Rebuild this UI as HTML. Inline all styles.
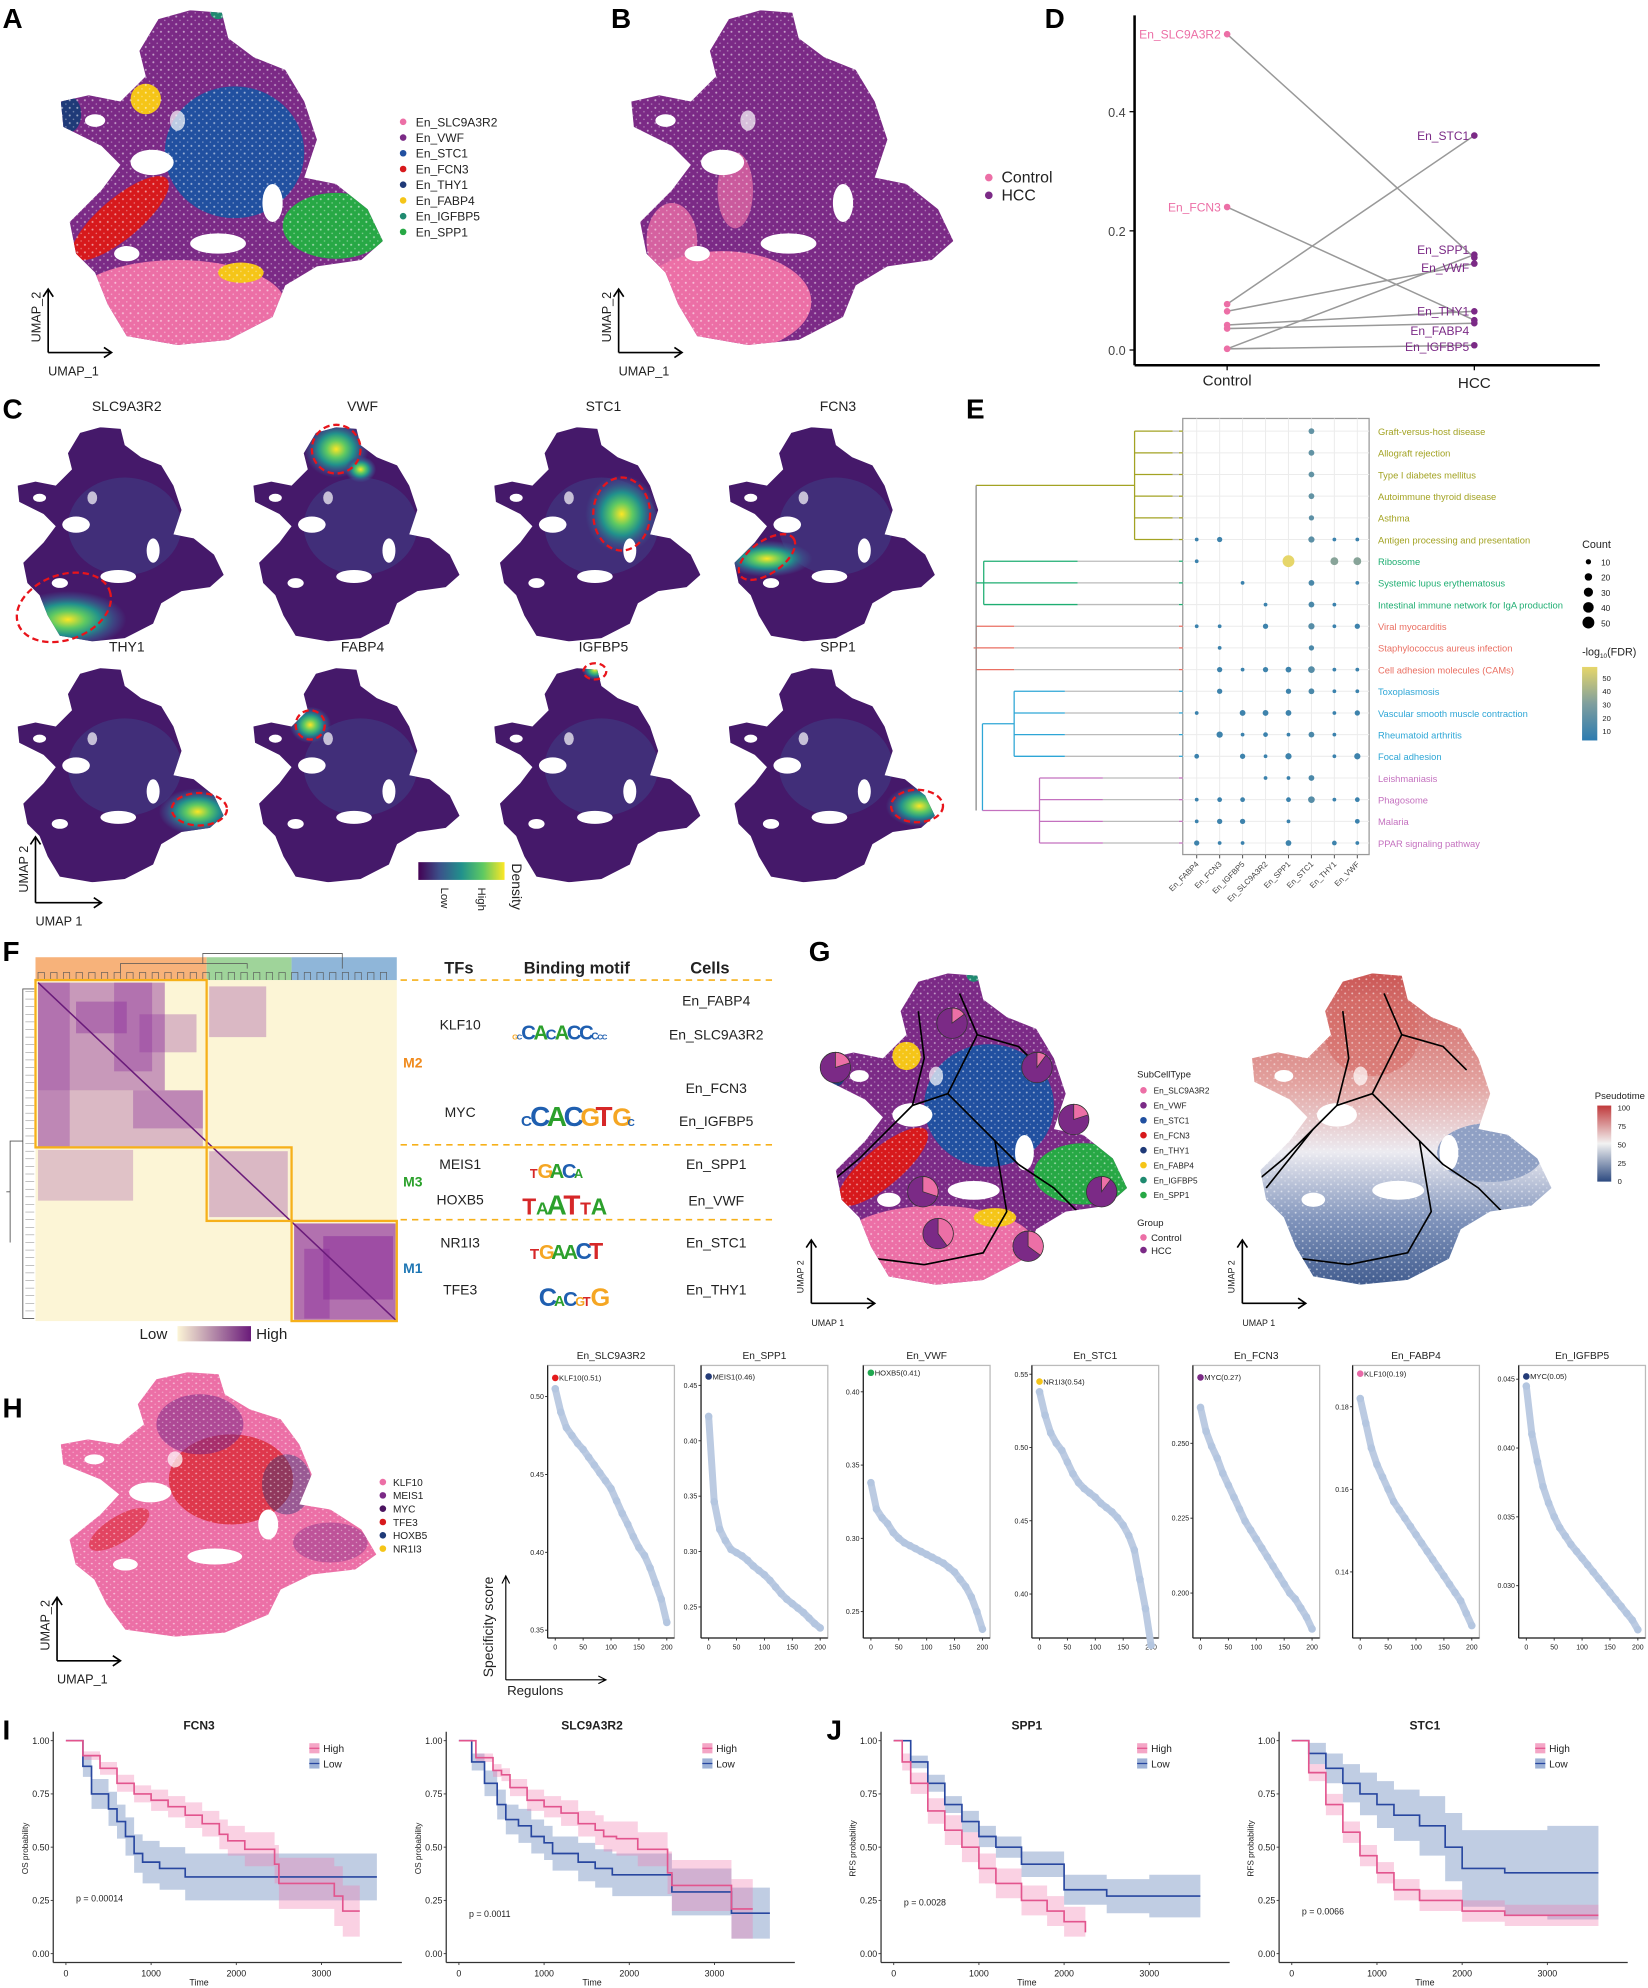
<!DOCTYPE html>
<html><head><meta charset="utf-8">
<style>
html,body{margin:0;padding:0;background:#fff;}
svg{display:block;font-family:"Liberation Sans",Arial,sans-serif;}
</style></head>
<body>
<svg id="fig" width="1648" height="1988" viewBox="0 0 1300 1568" xmlns="http://www.w3.org/2000/svg">
<defs>
<radialGradient id="hot" cx="50%" cy="50%" r="50%">
<stop offset="0" stop-color="#fde725"/><stop offset="0.3" stop-color="#5ec962"/><stop offset="0.55" stop-color="#21918c"/><stop offset="0.8" stop-color="#3b528b" stop-opacity="0.7"/><stop offset="1" stop-color="#3b528b" stop-opacity="0"/>
</radialGradient>
<linearGradient id="viridis" x1="0" x2="1" y1="0" y2="0">
<stop offset="0" stop-color="#440154"/><stop offset="0.25" stop-color="#3b528b"/><stop offset="0.5" stop-color="#21918c"/><stop offset="0.75" stop-color="#5ec962"/><stop offset="1" stop-color="#fde725"/>
</linearGradient>
<linearGradient id="fdrbar" x1="0" x2="0" y1="1" y2="0">
<stop offset="0" stop-color="#2c7bb0"/><stop offset="0.5" stop-color="#7f9f9e"/><stop offset="1" stop-color="#e6d66a"/>
</linearGradient>
<linearGradient id="pseudobar" x1="0" x2="0" y1="1" y2="0">
<stop offset="0" stop-color="#2d4a80"/><stop offset="0.5" stop-color="#f2f2f2"/><stop offset="1" stop-color="#c0393b"/>
</linearGradient>
<linearGradient id="pseudofill" x1="0" x2="0" y1="0" y2="1">
<stop offset="0" stop-color="#c9504e"/><stop offset="0.35" stop-color="#e3a3a0"/><stop offset="0.55" stop-color="#ecebf1"/><stop offset="0.75" stop-color="#7f93bb"/><stop offset="1" stop-color="#2d4a80"/>
</linearGradient>
<linearGradient id="heatbar" x1="0" x2="1" y1="0" y2="0">
<stop offset="0" stop-color="#fcf5d6"/><stop offset="1" stop-color="#6a1b7a"/>
</linearGradient>
<clipPath id="umapClip" clipPathUnits="userSpaceOnUse">
<path d="M125,15 L150,8 L175,10 L180,30 L200,45 L225,55 L240,80 L250,110 L240,140 L265,145 L290,165 L302,190 L285,205 L250,210 L225,225 L215,250 L180,268 L140,272 L100,265 L85,240 L75,215 L60,200 L55,175 L80,150 L95,130 L80,115 L50,100 L48,80 L70,75 L95,80 L115,60 L110,40 Z"/>
</clipPath>
<pattern id="speck" width="6" height="6" patternUnits="userSpaceOnUse">
<circle cx="1" cy="1" r="0.8" fill="#fff" opacity="0.55"/><circle cx="4" cy="4" r="0.6" fill="#fff" opacity="0.4"/>
</pattern>
</defs>
<g id="root"></g>
</svg>
<script>
// ===== Panel D data =====
const dClusters=["En_SLC9A3R2","En_FCN3","En_STC1","En_SPP1","En_VWF","En_THY1","En_FABP4","En_IGFBP5"];
const dControl=[0.53,0.24,0.077,0.002,0.065,0.042,0.036,0.002];
const dHCC=[0.155,0.05,0.36,0.16,0.145,0.065,0.045,0.008];
const dTicks=[0.0,0.2,0.4];
// ===== Panel E data =====
const ePathways=["Graft-versus-host disease","Allograft rejection","Type I diabetes mellitus","Autoimmune thyroid disease","Asthma","Antigen processing and presentation","Ribosome","Systemic lupus erythematosus","Intestinal immune network for IgA production","Viral myocarditis","Staphylococcus aureus infection","Cell adhesion molecules (CAMs)","Toxoplasmosis","Vascular smooth muscle contraction","Rheumatoid arthritis","Focal adhesion","Leishmaniasis","Phagosome","Malaria","PPAR signaling pathway"];
const eCells=["En_FABP4","En_FCN3","En_IGFBP5","En_SLC9A3R2","En_SPP1","En_STC1","En_THY1","En_VWF"];
const eCount=[
[0,0,0,0,0,12,0,0],[0,0,0,0,0,12,0,0],[0,0,0,0,0,12,0,0],[0,0,0,0,0,12,0,0],[0,0,0,0,0,10,0,0],
[5,10,0,0,0,14,5,5],[5,0,0,0,50,0,22,22],[0,0,5,0,0,12,0,5],[0,0,0,5,0,12,5,0],
[5,5,0,10,0,14,5,10],[0,5,0,0,0,10,0,0],[0,10,5,10,12,16,5,5],[0,10,0,0,10,12,5,5],
[5,0,12,12,12,0,5,10],[0,14,5,8,5,12,5,0],[8,0,10,5,14,0,5,14],[0,0,0,5,5,12,0,0],
[5,8,8,0,8,16,5,8],[5,10,10,0,5,0,0,8],[10,5,5,0,12,0,8,5]];
const eFDR=[
[0,0,0,0,0,18,0,0],[0,0,0,0,0,18,0,0],[0,0,0,0,0,18,0,0],[0,0,0,0,0,18,0,0],[0,0,0,0,0,16,0,0],
[5,6,0,0,0,16,5,5],[5,0,0,0,55,0,30,30],[0,0,5,0,0,10,0,5],[0,0,0,5,0,10,5,0],
[5,5,0,6,0,14,5,6],[0,5,0,0,0,10,0,0],[0,6,5,6,6,14,5,5],[0,6,0,0,6,10,5,5],
[5,0,6,6,6,0,5,6],[0,6,5,5,5,10,5,0],[5,0,6,5,6,0,5,6],[0,0,0,5,5,10,0,0],
[5,5,6,0,5,14,5,5],[5,6,6,0,5,0,0,5],[6,5,5,0,6,0,6,5]];
const eGroupColor=["#a3a323","#a3a323","#a3a323","#a3a323","#a3a323","#a3a323","#1fae72","#1fae72","#1fae72","#ea6f62","#ea6f62","#ea6f62","#2ea6d6","#2ea6d6","#2ea6d6","#2ea6d6","#c471bf","#c471bf","#c471bf","#c471bf"];
// ===== Panel H specificity data (ranks 0..200 step 10) =====
const hTitles=["En_SLC9A3R2","En_SPP1","En_VWF","En_STC1","En_FCN3","En_FABP4","En_IGFBP5"];
const hTop=["KLF10(0.51)","MEIS1(0.46)","HOXB5(0.41)","NR1I3(0.54)","MYC(0.27)","KLF10(0.19)","MYC(0.05)"];
const hTopVal=[0.512,0.458,0.413,0.545,0.272,0.188,0.0452];
const hRanks=[0,10,20,30,40,50,60,70,80,90,100,110,120,130,140,150,160,170,180,190,200];
const hSLC=[0.505,0.49,0.48,0.475,0.47,0.466,0.461,0.456,0.451,0.446,0.441,0.433,0.425,0.418,0.41,0.403,0.398,0.39,0.38,0.37,0.355];
const hSPP1=[0.422,0.345,0.32,0.31,0.302,0.299,0.296,0.292,0.287,0.283,0.279,0.274,0.268,0.262,0.257,0.253,0.249,0.245,0.24,0.235,0.231];
const hVWF=[0.338,0.32,0.314,0.31,0.304,0.30,0.297,0.295,0.293,0.291,0.289,0.287,0.285,0.283,0.28,0.277,0.272,0.267,0.26,0.25,0.238];
const hSTC1=[0.538,0.522,0.51,0.503,0.498,0.49,0.482,0.476,0.472,0.469,0.466,0.462,0.459,0.456,0.452,0.447,0.44,0.43,0.41,0.39,0.365];
const hFCN3=[0.262,0.254,0.249,0.245,0.24,0.236,0.232,0.228,0.224,0.221,0.218,0.215,0.212,0.209,0.206,0.203,0.2,0.198,0.195,0.192,0.188];
const hFABP4=[0.182,0.176,0.17,0.166,0.163,0.16,0.157,0.155,0.153,0.151,0.149,0.147,0.145,0.143,0.141,0.139,0.137,0.135,0.133,0.13,0.127];
const hIGFBP5=[0.0445,0.041,0.039,0.0372,0.036,0.035,0.0342,0.0336,0.033,0.0325,0.032,0.0315,0.031,0.0305,0.030,0.0295,0.029,0.0285,0.028,0.0275,0.0268];
const hSeries=[hSLC,hSPP1,hVWF,hSTC1,hFCN3,hFABP4,hIGFBP5];
const hYmin=[0.345,0.222,0.232,0.37,0.185,0.124,0.0262];
const hYmax=[0.52,0.468,0.418,0.556,0.276,0.19,0.046];
const hYticks=[[0.35,0.40,0.45,0.50],[0.25,0.30,0.35,0.40,0.45],[0.25,0.30,0.35,0.40],[0.40,0.45,0.50,0.55],[0.200,0.225,0.250],[0.14,0.16,0.18],[0.030,0.035,0.040,0.045]];
const hTopColor=["#e41a1c","#253c78","#21a850","#f5c518","#7b2a86","#e86aa8","#253c78"];
// ===== KM data =====
const kmTitles=["FCN3","SLC9A3R2","SPP1","STC1"];
const kmHighT=[[0,200,400,600,800,1000,1200,1400,1600,1800,1900,2100,2450,2500,3150,3250,3450],[0,200,400,500,600,800,1000,1200,1400,1600,1700,1850,2100,2450,2500,3200,3450],[0,100,200,400,600,800,1000,1200,1500,1800,2000,2250],[0,200,400,600,800,1000,1200,1500,2000,2500,3000,3600]];
const kmHighS=[[1,.93,.87,.8,.75,.72,.69,.65,.61,.56,.53,.49,.42,.33,.27,.2,.2],[1,.92,.86,.84,.78,.72,.69,.66,.61,.58,.55,.54,.49,.38,.32,.21,.21],[1,.9,.8,.67,.58,.5,.4,.33,.25,.2,.15,.1],[1,.85,.7,.57,.46,.38,.3,.25,.2,.18,.18,.18]];
const kmHighW=[[0,.02,.03,.04,.04,.05,.05,.06,.06,.07,.07,.08,.09,.12,.14,.12,.12],[0,.02,.03,.03,.04,.05,.05,.06,.06,.07,.07,.08,.08,.1,.12,.14,.14],[0,.04,.05,.06,.07,.07,.07,.07,.07,.07,.07,.06],[0,.04,.05,.05,.05,.05,.05,.05,.05,.05,.05,.05]];
const kmLowT=[[0,200,300,500,600,700,800,900,1100,1400,3650],[0,150,300,450,550,700,850,1000,1100,1400,1600,1800,2500,3200,3650],[0,200,400,600,800,1000,1200,1500,2000,2500,3000,3600],[0,200,400,600,800,1000,1200,1500,1800,2000,2500,3000,3600]];
const kmLowS=[[1,.88,.75,.68,.62,.55,.47,.43,.4,.36,.36],[1,.9,.8,.7,.63,.6,.55,.52,.47,.43,.4,.37,.29,.19,.19],[1,.9,.8,.7,.62,.55,.5,.42,.3,.27,.27,.27],[1,.94,.87,.8,.75,.7,.65,.6,.5,.4,.38,.38,.38]];
const kmLowW=[[0,.05,.07,.08,.08,.09,.09,.1,.1,.11,.16],[0,.04,.06,.07,.07,.08,.08,.08,.08,.09,.09,.1,.11,.12,.12],[0,.03,.04,.04,.05,.05,.05,.06,.07,.08,.1,.1],[0,.05,.07,.09,.1,.11,.12,.14,.16,.18,.2,.22,.22]];
const kmP=["p = 0.00014","p = 0.0011","p = 0.0028","p = 0.0066"];
const kmYlab=["OS probability","OS probability","RFS probability","RFS probability"];
const kmYticks=[0,0.25,0.5,0.75,1];
const kmXticks=[0,1000,2000,3000];

const F='font-family="Liberation Sans, Arial, sans-serif"';
let s='';
function T(x,y,txt,o){o=o||{};return `<text x="${x}" y="${y}" font-size="${o.fs||10}" fill="${o.c||'#222'}" text-anchor="${o.a||'start'}"${o.w?' font-weight="bold"':''}${o.r!=null?` transform="rotate(${o.r} ${x} ${y})"`:''}>${txt}</text>`;}
function L(x1,y1,x2,y2,c,w,n,extra){return `<line x1="${x1}" y1="${y1}" x2="${x2}" y2="${y2}" stroke="${c}" stroke-width="${w}" ${extra||''}/>`;}
function letter(x,y,ch){return T(x,y,ch,{fs:22,w:1,c:'#000',n:'panel-label-'+ch.toLowerCase()});}
function axesArrows(x,y,len,l1,l2,fs){
  let r=`<g>`;
  r+=L(x,y,x,y-len,'#000',1.3,'umap-y-arrow')+`<path d="M${x-4},${y-len+6} L${x},${y-len} L${x+4},${y-len+6}" fill="none" stroke="#000" stroke-width="1.3"/>`;
  r+=L(x,y,x+len,y,'#000',1.3,'umap-x-arrow')+`<path d="M${x+len-6},${y-4} L${x+len},${y} L${x+len-6},${y+4}" fill="none" stroke="#000" stroke-width="1.3"/>`;
  r+=T(x-6,y-8,l1,{fs:fs||10,r:-90,n:'umap-2-label'})+T(x,y+18,l2,{fs:fs||10,n:'umap-1-label'});
  return r+'</g>';
}
function umap(tx,ty,sx,sy,inner,name){
  return `<g transform="translate(${tx},${ty}) scale(${sx},${sy})"><g clip-path="url(#umapClip)">${inner}</g></g>`;
}
const holes=`<ellipse cx="120" cy="128" rx="17" ry="10" fill="#fff"/><ellipse cx="172" cy="192" rx="22" ry="8" fill="#fff"/><ellipse cx="215" cy="160" rx="8" ry="15" fill="#fff"/><ellipse cx="100" cy="200" rx="10" ry="6" fill="#fff"/><ellipse cx="75" cy="95" rx="8" ry="5" fill="#fff"/><ellipse cx="140" cy="95" rx="6" ry="8" fill="#fff" opacity="0.7"/>`;
const clusterInner=`<rect x="0" y="0" width="320" height="290" fill="#7b2a86"/>
<ellipse cx="185" cy="120" rx="55" ry="52" fill="#2150a0"/>
<ellipse cx="265" cy="178" rx="42" ry="26" fill="#27a845"/>
<ellipse cx="95" cy="172" rx="48" ry="16" transform="rotate(-40 95 172)" fill="#d7191c"/>
<ellipse cx="140" cy="240" rx="85" ry="35" fill="#ec6fa6"/>
<ellipse cx="190" cy="215" rx="18" ry="8" fill="#f5c518"/>
<ellipse cx="115" cy="78" rx="12" ry="12" fill="#f5c518"/>
<ellipse cx="55" cy="90" rx="9" ry="14" fill="#1f3a78"/>
<ellipse cx="172" cy="10" rx="6" ry="5" fill="#1f8a70"/>
${holes}<rect x="0" y="0" width="320" height="290" fill="url(#speck)"/>`;

// ===== Panel A =====
s+=letter(2,22,'A');
s+=umap(0,0,1,1,clusterInner,'umap-clusters-a');
const aNames=["En_SLC9A3R2","En_VWF","En_STC1","En_FCN3","En_THY1","En_FABP4","En_IGFBP5","En_SPP1"];
const aCols=["#ec6fa6","#7b2a86","#2150a0","#d7191c","#1f3a78","#f5c518","#1f8a70","#27a845"];
aNames.forEach((n,i)=>{s+=`<circle cx="318" cy="${96+i*12.4}" r="2.6" fill="${aCols[i]}"/>`+T(328,99.5+i*12.4,n,{fs:9.5,n:'legend-entry-'+n});});
s+=axesArrows(38,278,50,'UMAP_2','UMAP_1',10);
// ===== Panel B =====
s+=letter(482,22,'B');
s+=umap(450,0,1,1,`<rect x="0" y="0" width="320" height="290" fill="#7b2a86"/><ellipse cx="120" cy="238" rx="70" ry="40" fill="#ec6fa6"/><ellipse cx="80" cy="190" rx="20" ry="30" fill="#ec6fa6" opacity="0.8"/><ellipse cx="130" cy="150" rx="14" ry="30" fill="#ec6fa6" opacity="0.7"/>${holes}<rect x="0" y="0" width="320" height="290" fill="url(#speck)"/>`,'umap-group-b');
s+=`<circle cx="780" cy="140" r="3" fill="#ec6fa6"/>`+T(790,144,'Control',{fs:12.5,n:'legend-control'});
s+=`<circle cx="780" cy="154" r="3" fill="#7b2a86"/>`+T(790,158,'HCC',{fs:12.5,n:'legend-hcc'});
s+=axesArrows(488,278,50,'UMAP_2','UMAP_1',10);
// ===== Panel D =====
s+=letter(824,22,'D');
(function(){
  const x0=895,yb=288,yScale=v=>276-v*470,xc=968,xh=1163;
  let g=`<g>`;
  g+=L(x0,12,x0,yb,'#000',2,'y-axis')+L(x0,yb,1262,yb,'#000',2,'x-axis');
  dTicks.forEach(v=>{g+=L(x0-4,yScale(v),x0,yScale(v),'#000',1,'y-tick')+T(x0-7,yScale(v)+4,v.toFixed(1),{fs:10,a:'end',c:'#444',n:'y-tick-label'});});
  g+=L(xc,yb,xc,yb+4,'#000',1,'x-tick')+L(xh,yb,xh,yb+4,'#000',1,'x-tick');
  g+=T(xc,yb+16,'Control',{fs:12,a:'middle',n:'x-label-control'})+T(xh,yb+18,'HCC',{fs:12,a:'middle',n:'x-label-hcc'});
  dClusters.forEach((n,i)=>{g+=`<line x1="${xc}" y1="${yScale(dControl[i])}" x2="${xh}" y2="${yScale(dHCC[i])}" stroke="#999" stroke-width="1.2"/>`;});
  dClusters.forEach((n,i)=>{
    g+=`<circle cx="${xc}" cy="${yScale(dControl[i])}" r="2.6" fill="#ec6fa6"/>`;
    g+=`<circle cx="${xh}" cy="${yScale(dHCC[i])}" r="2.6" fill="#7b2a86"/>`;
  });
  [0,1].forEach(i=>{g+=T(xc-5,yScale(dControl[i])+3.5,dClusters[i],{fs:9.5,a:'end',c:'#ec6fa6',n:'label-control-'+dClusters[i]});});
  const hl={"En_STC1":0,"En_SPP1":-4,"En_VWF":3,"En_THY1":0,"En_FABP4":6,"En_IGFBP5":1};
  dClusters.forEach((n,i)=>{if(n in hl)g+=T(xh-4,yScale(dHCC[i])+3.5+hl[n],n,{fs:9.5,a:'end',c:'#7b2a86',n:'label-hcc-'+n});});
  s+=g+'</g>';
})();
// ===== Panel C =====
s+=letter(2,330,'C');
const cGenes=["SLC9A3R2","VWF","STC1","FCN3","THY1","FABP4","IGFBP5","SPP1"];
const cHot=[[[110,245,45,22]],[[150,35,25,22],[180,60,12,10]],[[205,115,28,30]],[[95,170,35,14]],[[270,185,30,18],[52,250,8,10]],[[118,78,16,14]],[[172,10,10,8]],[[283,178,26,16]]];
const cDash=[[105,230,60,40,-20],[150,35,30,30,0],[205,115,35,45,0],[95,168,40,20,-35],[272,182,34,20,0],[118,78,18,18,0],[172,12,14,10,0],[280,178,32,20,0]];
cGenes.forEach((gname,i)=>{
  const col=i%4,row=Math.floor(i/4);
  const ox=[12,198,388,573][col],oy=row?525:335;
  const sc=0.64;
  let inner=`<rect x="0" y="0" width="320" height="290" fill="#45196a"/><ellipse cx="180" cy="130" rx="70" ry="60" fill="#3b4a8c" opacity="0.45"/>`;
  cHot[i].forEach(h=>{inner+=`<ellipse cx="${h[0]}" cy="${h[1]}" rx="${h[2]*1.6}" ry="${h[3]*1.6}" fill="url(#hot)"/>`;});
  inner+=holes;
  s+=umap(ox-45*sc,oy-5*sc,sc,sc,inner,'density-map-'+gname);
  const d=cDash[i];
  s+=`<ellipse cx="${ox-45*sc+d[0]*sc}" cy="${oy-5*sc+d[1]*sc}" rx="${d[2]*sc}" ry="${d[3]*sc}" transform="rotate(${d[4]} ${ox-45*sc+d[0]*sc} ${oy-5*sc+d[1]*sc})" fill="none" stroke="#e8141b" stroke-width="1.8" stroke-dasharray="5,3"/>`;
  s+=T(ox+88,oy-11,gname,{fs:11,a:'middle',n:'density-title-'+gname});
});
s+=`<rect x="330" y="680" width="68" height="14" fill="url(#viridis)"/>`;
s+=T(348,700,'Low',{fs:9,r:90,n:'colorbar-low'})+T(377,700,'High',{fs:9,r:90,n:'colorbar-high'})+T(404,681,'Density',{fs:11,r:90,n:'colorbar-title'});
s+=axesArrows(28,712,52,'UMAP 2','UMAP 1',10);
// ===== Panel E =====
s+=letter(762,330,'E');
(function(){
  const bx=933,by=330,bw=147,bh=344;
  const cx=j=>944+j*18.1, ry=i=>340+i*17.1;
  let g=`<g>`;
  g+=`<rect x="${bx}" y="${by}" width="${bw}" height="${bh}" fill="#fff" stroke="#999" stroke-width="1"/>`;
  ePathways.forEach((p,i)=>{g+=L(bx,ry(i),bx+bw,ry(i),'#ececec',0.8,'grid-row');});
  eCells.forEach((c,j)=>{g+=L(cx(j),by,cx(j),by+bh,'#ececec',0.8,'grid-col');});
  const fdrCol=v=>{const t=Math.min(v/55,1);const a=[44,123,176],m=[127,159,158],b=[230,214,106];let c;if(t<.5){const u=t/.5;c=a.map((x,k)=>Math.round(x+(m[k]-x)*u));}else{const u=(t-.5)/.5;c=m.map((x,k)=>Math.round(x+(b[k]-x)*u));}return `rgb(${c.join(',')})`;};
  ePathways.forEach((p,i)=>{eCells.forEach((c,j)=>{const v=eCount[i][j];if(v>0)g+=`<circle cx="${cx(j)}" cy="${ry(i)}" r="${(Math.sqrt(v)*0.66).toFixed(2)}" fill="${fdrCol(eFDR[i][j])}"/>`;});
    g+=T(1087,ry(i)+3,p,{fs:7.4,c:eGroupColor[i],n:'pathway-label'});
    g+=L(bx-3,ry(i),bx,ry(i),eGroupColor[i],1,'row-tick');});
  eCells.forEach((c,j)=>{g+=L(cx(j),by+bh,cx(j),by+bh+3,'#555',0.8,'col-tick')+T(cx(j)+2,by+bh+8,c,{fs:6.2,a:'end',c:'#444',r:-45,n:'col-label-'+c});});
  const seg=(x1,y1,x2,y2,c)=>`<path d="M${x1},${y1} L${x2},${y2}" stroke="${c}" stroke-width="1" fill="none"/>`;
  const grp=[[0,5,895,925,'#a3a323'],[6,8,776,850,'#1fae72'],[9,11,770,800,'#ea6f62'],[12,15,800,840,'#2ea6d6'],[16,19,820,870,'#c471bf']];
  grp.forEach(gg=>{for(let i=gg[0];i<=gg[1];i++){g+=seg(gg[3],ry(i),bx-3,ry(i),'#bbb')+seg(gg[2],ry(i),gg[3],ry(i),gg[4]);}g+=seg(gg[2],ry(gg[0]),gg[2],ry(gg[1]),gg[4]);});
  g+=seg(770,ry(2.5),895,ry(2.5),'#a3a323')+seg(770,ry(2.5),770,ry(17.5),'#888');
  g+=seg(770,ry(7),776,ry(7),'#1fae72')+seg(768,ry(10),770,ry(10),'#ea6f62');
  g+=seg(775,ry(13.5),800,ry(13.5),'#2ea6d6')+seg(775,ry(13.5),775,ry(17.5),'#2ea6d6')+seg(775,ry(17.5),820,ry(17.5),'#c471bf');
  g+=T(1248,432,'Count',{fs:8.5,n:'count-legend-title'});
  [10,20,30,40,50].forEach((v,k)=>{g+=`<circle cx="1253" cy="${443+k*12}" r="${(Math.sqrt(v)*0.66).toFixed(2)}" fill="#000"/>`+T(1263,446+k*12,v,{fs:6.5,n:'count-legend-'+v});});
  g+=T(1248,517,'-log<tspan font-size="5" dy="2">10</tspan><tspan dy="-2">(FDR)</tspan>',{fs:8.5,n:'fdr-legend-title'});
  g+=`<rect x="1248" y="526" width="12" height="58" fill="url(#fdrbar)"/>`;
  [50,40,30,20,10].forEach((v,k)=>{g+=T(1264,537+k*10.5,v,{fs:6,n:'fdr-tick'});});
  s+=g+'</g>';
})();
// ===== Panel F =====
s+=letter(2,758,'F');
(function(){
  let g=`<g>`;
  g+=`<rect x="28" y="773" width="285" height="269" fill="#fcf5d6"/>`;
  g+=`<rect x="28" y="755" width="135" height="18" fill="#f7b27a"/><rect x="163" y="755" width="67" height="18" fill="#9fd49a"/><rect x="230" y="755" width="83" height="18" fill="#8fb6d9"/>`;
  for(let k=0;k<28;k++){const x=30+k*10;g+=`<path d="M${x},773 L${x},767 L${x+5},767 L${x+5},773" stroke="#555" stroke-width="0.5" fill="none"/>`;}
  g+=`<path d="M95,767 L95,760 L195,760 L195,764 M160,760 L160,752 L270,752 L270,764" stroke="#555" stroke-width="0.6" fill="none"/>`;
  const blocks=[[30,775,100,85,0.45],[90,775,30,70,0.35],[30,860,130,45,0.3],[30,775,25,130,0.35],[105,860,55,30,0.35],[165,778,45,40,0.3],[30,907,75,40,0.25],[165,908,62,52,0.3],[232,965,80,76,0.65],[240,985,20,55,0.4],[255,975,55,50,0.5],[60,790,40,25,0.4],[110,800,45,30,0.3]];
  blocks.forEach(b=>{g+=`<rect x="${b[0]}" y="${b[1]}" width="${b[2]}" height="${b[3]}" fill="#8a2a9a" opacity="${b[4]}"/>`;});
  g+=`<path d="M30,775 L313,1042" stroke="#6a1b7a" stroke-width="1.2"/>`;
  g+=`<rect x="28" y="773" width="135" height="132" fill="none" stroke="#f6b01a" stroke-width="1.8"/><rect x="163" y="905" width="67" height="58" fill="none" stroke="#f6b01a" stroke-width="1.8"/><rect x="230" y="963" width="83" height="79" fill="none" stroke="#f6b01a" stroke-width="1.8"/>`;
  g+=`<path d="M27,780 L18,780 L18,1040 L27,1040 M18,900 L8,900 L8,980 M5,940 L8,940" stroke="#555" stroke-width="0.7" fill="none"/>`;
  for(let y=782;y<1040;y+=6){g+=L(20,y,27,y,'#888',0.4,'dendro-leaf');}
  g+=T(318,842,'M2',{fs:11,w:1,c:'#f08a1c',n:'module-m2'})+T(318,936,'M3',{fs:11,w:1,c:'#2aa02a',n:'module-m3'})+T(318,1004,'M1',{fs:11,w:1,c:'#1f77b4',n:'module-m1'});
  g+=T(132,1056,'Low',{fs:12,a:'end',n:'heat-low'})+`<rect x="140" y="1046" width="58" height="12" fill="url(#heatbar)"/>`+T(202,1056,'High',{fs:12,n:'heat-high'});
  g+=T(362,768,'TFs',{fs:13,w:1,a:'middle',n:'header-tfs'})+T(455,768,'Binding motif',{fs:13,w:1,a:'middle',n:'header-motif'})+T(560,768,'Cells',{fs:13,w:1,a:'middle',n:'header-cells'});
  [773,903,962].forEach(y=>{g+=L(316,y,612,y,'#f6b01a',1.3,'separator','stroke-dasharray="5,4"');});
  const rows=[["KLF10",812],["MYC",881],["MEIS1",922],["HOXB5",950],["NR1I3",984],["TFE3",1021]];
  rows.forEach(r=>{g+=T(363,r[1],r[0],{fs:11,a:'middle',n:'tf-'+r[0]});});
  const cells=[["En_FABP4",793],["En_SLC9A3R2",820],["En_FCN3",862],["En_IGFBP5",888],["En_SPP1",922],["En_VWF",951],["En_STC1",984],["En_THY1",1021]];
  cells.forEach(c=>{g+=T(565,c[1],c[0],{fs:11,a:'middle',n:'cell-'+c[0]});});
  const LC={C:'#1f5fb0',A:'#2ca02c',G:'#f5a623',T:'#d62728'};
  const motifs=[[404,820,"gcCACACCCcc",[6,6,16,16,12,16,16,16,8,6,6]],[411,888,"cCACGTGc",[12,22,22,22,20,22,20,8]],[418,929,"tGACA",[10,16,16,16,10]],[412,958,"TAATTA",[18,14,22,22,14,18]],[418,993,"TGAACT",[12,16,16,16,18,18]],[425,1030,"CACGTG",[20,12,16,10,10,20]]];
  motifs.forEach(m=>{let x=m[0];let str=`<text y="${m[1]}" ${F} font-weight="bold">`;m[2].split('').forEach((ch,k)=>{const u=ch.toUpperCase();const h=m[3][k];str+=`<tspan x="${x}" font-size="${h}" fill="${LC[u]}">${u}</tspan>`;x+=h*0.6;});g+=str+'</text>';});
  s+=g+'</g>';
})();
// ===== Panel G =====
s+=letter(638,758,'G');
(function(){
  const sc=0.93;
  let inner=clusterInner+`<path d="M40,250 L45,190 L75,165 L100,140 L120,120 L150,110 L175,60 L160,25 M120,120 L130,80 L125,40 M150,110 L190,150 L210,170 L240,190 L260,210 M190,150 L200,210 L180,245 L130,255 L90,250 M175,60 L210,70 L230,90" stroke="#000" stroke-width="1.4" fill="none"/>`;
  s+=umap(650-45*sc,765-5*sc,sc,sc,inner,'trajectory-clusters');
  const pies=[[659,842],[751,807],[818,842],[847,883],[869,940],[728,940],[811,983],[740,973]];
  const fr=[0.2,0.15,0.1,0.2,0.1,0.3,0.35,0.4];
  pies.forEach((p,i)=>{const r=12,a=fr[i]*2*Math.PI;const x2=p[0]+r*Math.sin(a),y2=p[1]-r*Math.cos(a);
    s+=`<g><circle cx="${p[0]}" cy="${p[1]}" r="${r}" fill="#7b2a86" stroke="#333" stroke-width="0.6"/><path d="M${p[0]},${p[1]} L${p[0]},${p[1]-r} A${r},${r} 0 ${fr[i]>.5?1:0} 1 ${x2.toFixed(1)},${y2.toFixed(1)} Z" fill="#ec6fa6" stroke="#333" stroke-width="0.6"/></g>`;});
  s+=T(897,850,'SubCellType',{fs:7.5,n:'subcelltype-title'});
  aNames.forEach((n,i)=>{s+=`<circle cx="902" cy="${860+i*11.8}" r="2.6" fill="${aCols[i]}"/>`+T(910,862.5+i*11.8,n,{fs:6.5,n:'g-legend-'+n});});
  s+=T(897,967,'Group',{fs:7.5,n:'group-title'})+`<circle cx="902" cy="976" r="2.6" fill="#ec6fa6"/>`+T(908,979,'Control',{fs:7.5,n:'g-legend-control'})+`<circle cx="902" cy="986" r="2.6" fill="#7b2a86"/>`+T(908,989,'HCC',{fs:7.5,n:'g-legend-hcc'});
  s+=axesArrows(640,1028,50,'UMAP 2','UMAP 1',7);
  let inner2=`<rect x="0" y="0" width="320" height="290" fill="url(#pseudofill)"/><ellipse cx="250" cy="160" rx="45" ry="25" fill="#8fa0c4"/><ellipse cx="150" cy="60" rx="40" ry="35" fill="#d66a66" opacity="0.6"/>${holes}<rect x="0" y="0" width="320" height="290" fill="url(#speck)"/><path d="M40,250 L45,190 L75,165 L100,140 L120,120 L150,110 L175,60 L160,25 M120,120 L130,80 L125,40 M150,110 L190,150 L210,170 L240,190 L260,210 M190,150 L200,210 L180,245 L130,255 L90,250 M175,60 L210,70 L230,90 M100,140 L60,190" stroke="#000" stroke-width="1.4" fill="none"/>`;
  s+=umap(985-42,765-4.7,sc,sc,inner2,'pseudotime-umap');
  s+=T(1258,867,'Pseudotime',{fs:7.5,n:'pseudotime-title'})+`<rect x="1260" y="872" width="11" height="60" fill="url(#pseudobar)"/>`;
  [100,75,50,25,0].forEach((v,k)=>{s+=T(1276,876+k*14.5,v,{fs:6,n:'pseudotime-tick'});});
  s+=axesArrows(980,1028,50,'UMAP 2','UMAP 1',7);
})();
// ===== Panel H =====
s+=letter(2,1118,'H');
(function(){
  let inner=`<rect x="0" y="0" width="320" height="290" fill="#ec6fa6"/><ellipse cx="185" cy="115" rx="50" ry="45" fill="#d7191c" opacity="0.65"/><ellipse cx="160" cy="60" rx="35" ry="30" fill="#7b2a86" opacity="0.55"/><ellipse cx="230" cy="120" rx="20" ry="30" fill="#1f3a78" opacity="0.4"/><ellipse cx="95" cy="165" rx="30" ry="12" transform="rotate(-40 95 165)" fill="#d7191c" opacity="0.5"/><ellipse cx="265" cy="178" rx="30" ry="20" fill="#7b2a86" opacity="0.4"/>${holes}<rect x="0" y="0" width="320" height="290" fill="url(#speck)"/>`;
  s+=umap(45-45*0.98,1080-5*0.79,0.98,0.79,inner,'regulon-umap');
  const hn=["KLF10","MEIS1","MYC","TFE3","HOXB5","NR1I3"],hc=["#ec6fa6","#7b2a86","#4b1460","#d7191c","#1f3a78","#f5c518"];
  hn.forEach((n,i)=>{s+=`<circle cx="302" cy="${1169+i*10.5}" r="2.6" fill="${hc[i]}"/>`+T(310,1172+i*10.5,n,{fs:8,n:'h-legend-'+n});});
  s+=axesArrows(45,1310,50,'UMAP_2','UMAP_1',10);
  s+=`<path d="M399,1325 L399,1243 M396,1249 L399,1243 L402,1249 M399,1325 L478,1325 M472,1322 L478,1325 L472,1328" stroke="#000" stroke-width="0.9" fill="none"/>`;
  s+=T(389,1323,'Specificity score',{fs:11,r:-90,n:'spec-y-title'})+T(400,1337,'Regulons',{fs:10.5,n:'spec-x-title'});
  const lefts=[432,553,681,814,941,1067,1198],bw=100,top=1077,bot=1292;
  hSeries.forEach((ser,p)=>{
    const L0=lefts[p];const xs=r=>L0+6+r*(bw-12)/200;const ys=v=>bot-(v-hYmin[p])/(hYmax[p]-hYmin[p])*(bot-top);
    let g=`<g>`;
    g+=`<rect x="${L0}" y="${top}" width="${bw}" height="${bot-top}" fill="#fff" stroke="#bbb" stroke-width="1"/>`+L(L0,top,L0,bot,'#222',1,'y-axis')+L(L0,bot,L0+bw,bot,'#222',1,'x-axis');
    g+=T(L0+bw/2,1072,hTitles[p],{fs:8,a:'middle',n:'spec-title'});
    hYticks[p].forEach(v=>{g+=L(L0-2,ys(v),L0,ys(v),'#222',0.7,'tick')+T(L0-3,ys(v)+2,v.toFixed(p===4||p===6?3:2),{fs:5.5,a:'end',n:'spec-y-tick'});});
    [0,50,100,150,200].forEach(v=>{g+=L(xs(v),bot,xs(v),bot+2,'#222',0.7,'tick')+T(xs(v),bot+9,v,{fs:5.5,a:'middle',n:'spec-x-tick'});});
    g+=`<polyline points="${hRanks.map((r,k)=>xs(r).toFixed(1)+','+ys(ser[k]).toFixed(1)).join(' ')}" fill="none" stroke="#bccbe2" stroke-width="5.5" stroke-linejoin="round" stroke-linecap="round"/>`;
    hRanks.forEach((r,k)=>{g+=`<circle cx="${xs(r).toFixed(1)}" cy="${ys(ser[k]).toFixed(1)}" r="3" fill="#b4c6e0"/>`;});
    g+=`<circle cx="${xs(0)}" cy="${ys(hTopVal[p])}" r="2.6" fill="${hTopColor[p]}"/>`+T(xs(0)+3,ys(hTopVal[p])+2.2,hTop[p],{fs:6,n:'top-regulon-label'});
    s+=g+'</g>';
  });
})();
// ===== Panels I & J =====
s+=letter(2,1372,'I')+letter(652,1372,'J');
(function(){
  const x0s=[52,362,705,1019];
  kmTitles.forEach((ttl,p)=>{
    const x0=x0s[p];const xs=t=>x0+t*0.0672;const ys=v=>1541-v*168;
    let g=`<g>`;
    g+=L(x0-10,1366,x0-10,1548,'#333',1,'y-axis')+L(x0-10,1548,x0+265,1548,'#333',1,'x-axis');
    kmYticks.forEach(v=>{g+=L(x0-12,ys(v),x0-10,ys(v),'#333',0.7,'tick')+T(x0-13,ys(v)+2.5,v.toFixed(2),{fs:7,a:'end',n:'km-y-tick'});});
    kmXticks.forEach(v=>{g+=L(xs(v),1548,xs(v),1550,'#333',0.7,'tick')+T(xs(v),1559,v,{fs:7,a:'middle',n:'km-x-tick'});});
    g+=T(x0+105,1566,'Time',{fs:7,a:'middle',n:'km-x-title'})+T(x0-30,1458,kmYlab[p],{fs:6.5,a:'middle',r:-90,n:'km-y-title'});
    g+=T(x0+105,1364,ttl,{fs:9.5,w:1,a:'middle',n:'km-title'});
    const band=(T_,S,W,col,nm)=>{let up='',lo='';for(let k=0;k<T_.length;k++){const tn=k+1<T_.length?T_[k+1]:T_[k];up+=`${xs(T_[k]).toFixed(1)},${ys(Math.min(1,S[k]+W[k])).toFixed(1)} ${xs(tn).toFixed(1)},${ys(Math.min(1,S[k]+W[k])).toFixed(1)} `;}
      for(let k=T_.length-1;k>=0;k--){const tn=k+1<T_.length?T_[k+1]:T_[k];lo+=`${xs(tn).toFixed(1)},${ys(Math.max(0,S[k]-W[k])).toFixed(1)} ${xs(T_[k]).toFixed(1)},${ys(Math.max(0,S[k]-W[k])).toFixed(1)} `;}
      return `<polygon points="${up}${lo}" fill="${col}" opacity="0.35"/>`;};
    const step=(T_,S,col,nm)=>{let d=`M${xs(T_[0]).toFixed(1)},${ys(S[0]).toFixed(1)}`;for(let k=1;k<T_.length;k++){d+=` H${xs(T_[k]).toFixed(1)} V${ys(S[k]).toFixed(1)}`;}return `<path d="${d}" fill="none" stroke="${col}" stroke-width="1.3"/>`;};
    g+=band(kmLowT[p],kmLowS[p],kmLowW[p],'#4a6fb0','ci-low')+band(kmHighT[p],kmHighS[p],kmHighW[p],'#f07ab0','ci-high');
    g+=step(kmLowT[p],kmLowS[p],'#2847a0','curve-low')+step(kmHighT[p],kmHighS[p],'#e2558e','curve-high');
    g+=`<rect x="${x0+192}" y="1375" width="8" height="8" fill="#f4a6c6"/><line x1="${x0+192}" y1="1379" x2="${x0+200}" y2="1379" stroke="#e2558e"/>`+T(x0+203,1382,'High',{fs:8,n:'legend-high'});
    g+=`<rect x="${x0+192}" y="1387" width="8" height="8" fill="#9db1d6"/><line x1="${x0+192}" y1="1391" x2="${x0+200}" y2="1391" stroke="#2847a0"/>`+T(x0+203,1394,'Low',{fs:8,n:'legend-low'});
    g+=T(x0+8,[1500,1512,1503,1510][p],kmP[p],{fs:7,n:'p-value'});
    s+=g+'</g>';
  });
})();
document.getElementById('root').innerHTML=s;
</script>
</body></html>
